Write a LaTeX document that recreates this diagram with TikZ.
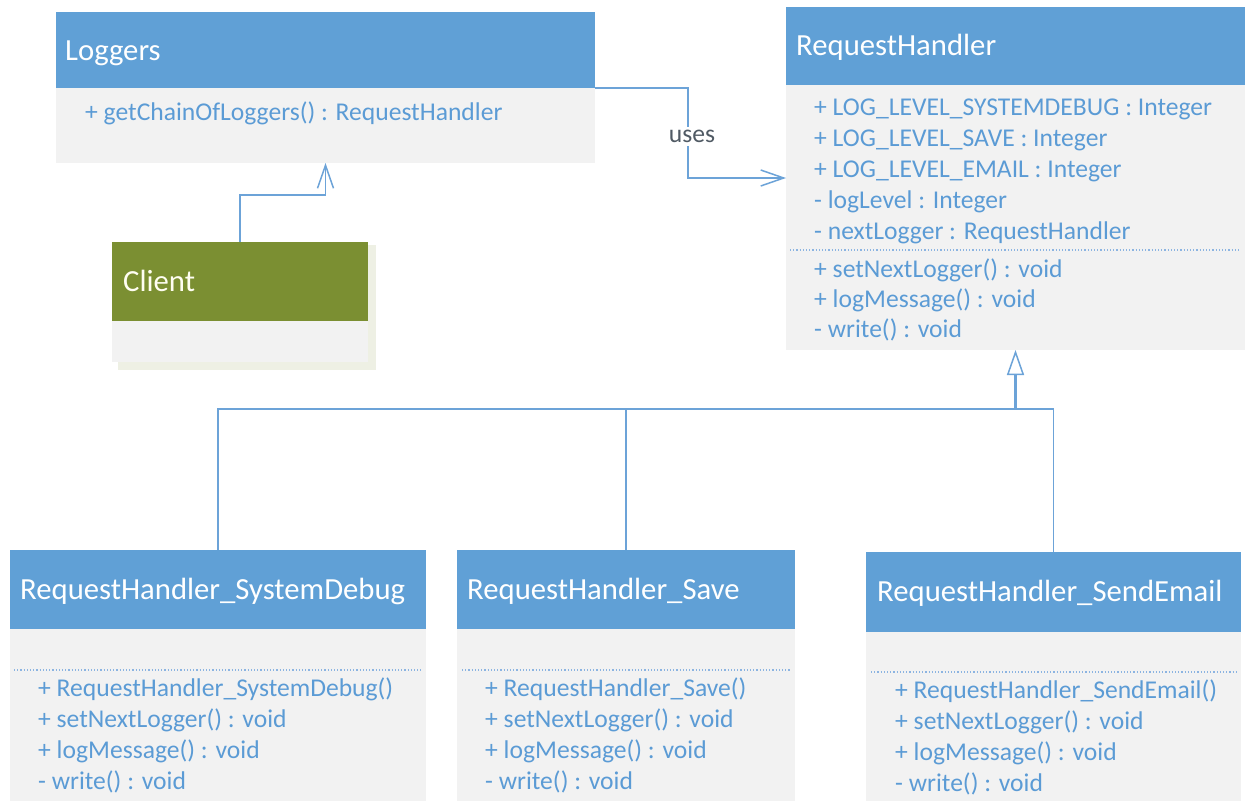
\documentclass[tikz,border=0pt]{standalone}
\usepackage{fontspec}
\setmainfont{Carlito}
\usetikzlibrary{arrows.meta,calc}
\definecolor{hblue}{RGB}{96,160,214}
\definecolor{bgrey}{RGB}{242,242,242}
\definecolor{tblue}{RGB}{91,155,213}
\definecolor{lblue}{RGB}{108,163,216}
\definecolor{cgreen}{RGB}{123,143,50}
\definecolor{shad}{RGB}{238,240,228}
\definecolor{dotc}{RGB}{140,180,225}
\definecolor{usesc}{RGB}{80,90,100}
\tikzset{
  box/.style={rectangle, inner sep=0pt, outer sep=0pt, anchor=north west, draw=none},
  hdr/.style={box, fill=hblue},
  cgr/.style={box, fill=cgreen},
  bdy/.style={box, fill=bgrey},
  htext/.style={anchor=base west, inner sep=0pt, text=white, font=\fontsize{30.7}{36}\selectfont},
  btext/.style={anchor=base west, inner sep=0pt, text=tblue, font=\fontsize{25.6}{31}\selectfont},
  conn/.style={draw=lblue, line width=1.5pt},
  nav/.style={conn, -{Straight Barb[length=23pt,width=16pt,line width=1.5pt]}},
  inh/.style={conn, -{Triangle[open,length=25pt,width=17pt,line width=1.5pt,fill=white]}},
  sep/.style={draw=dotc, line width=1.2pt, dotted}
}
\begin{document}
\begin{tikzpicture}[x=1pt,y=-1pt]
\useasboundingbox (0,0) rectangle (1245,801);
\fill[white] (0,0) rectangle (1245,801);

% Loggers
\node[hdr, minimum width=539pt, minimum height=76pt] (lgh) at (56,12) {};
\node[bdy, minimum width=539pt, minimum height=75pt] (lgb) at (56,88) {};
\node[htext] (lgt) at (65,60) {Loggers};
\node[btext] (lg1) at (85,120) {+ getChainOfLoggers() : RequestHandler};

% Client
\fill[shad] (118,245) rectangle (376,370);
\node[cgr, minimum width=256pt, minimum height=79pt] (clh) at (112,242) {};
\node[bdy, minimum width=256pt, minimum height=41pt] (clb) at (112,321) {};
\node[htext, text=white!95!yellow] (clt) at (123,291) {Client};

% RequestHandler
\node[hdr, minimum width=459pt, minimum height=78pt] (rhh) at (786,7) {};
\node[bdy, minimum width=459pt, minimum height=265pt] (rhb) at (786,85) {};
\node[htext] (rht) at (796,55) {RequestHandler};
\node[btext] (ra1) at (814,115) {+ LOG\_LEVEL\_SYSTEMDEBUG : Integer};
\node[btext] (ra2) at (814,146) {+ LOG\_LEVEL\_SAVE : Integer};
\node[btext] (ra3) at (814,177) {+ LOG\_LEVEL\_EMAIL : Integer};
\node[btext] (ra4) at (814,208) {- logLevel : Integer};
\node[btext] (ra5) at (814,239) {- nextLogger : RequestHandler};
\draw[sep] (790,250) -- (1241,250);
\node[btext] (rm1) at (814,277) {+ setNextLogger() : void};
\node[btext] (rm2) at (814,307) {+ logMessage() : void};
\node[btext] (rm3) at (814,337) {- write() : void};

% Child 1
\node[hdr, minimum width=416pt, minimum height=79pt] (c1h) at (10,550) {};
\node[bdy, minimum width=416pt, minimum height=172pt] (c1b) at (10,629) {};
\node[htext] (c1t) at (20,599) {RequestHandler\_SystemDebug};
\draw[sep] (14,670) -- (421,670);
\node[btext] (c1m1) at (38,696) {+ RequestHandler\_SystemDebug()};
\node[btext] (c1m2) at (38,727) {+ setNextLogger() : void};
\node[btext] (c1m3) at (38,758) {+ logMessage() : void};
\node[btext] (c1m4) at (38,789) {- write() : void};

% Child 2
\node[hdr, minimum width=338pt, minimum height=79pt] (c2h) at (457,550) {};
\node[bdy, minimum width=338pt, minimum height=172pt] (c2b) at (457,629) {};
\node[htext] (c2t) at (467,599) {RequestHandler\_Save};
\draw[sep] (462,670) -- (790,670);
\node[btext] (c2m1) at (485,696) {+ RequestHandler\_Save()};
\node[btext] (c2m2) at (485,727) {+ setNextLogger() : void};
\node[btext] (c2m3) at (485,758) {+ logMessage() : void};
\node[btext] (c2m4) at (485,789) {- write() : void};

% Child 3
\node[hdr, minimum width=375pt, minimum height=80pt] (c3h) at (866,552) {};
\node[bdy, minimum width=375pt, minimum height=169pt] (c3b) at (866,632) {};
\node[htext] (c3t) at (877,601) {RequestHandler\_SendEmail};
\draw[sep] (871,672) -- (1236,672);
\node[btext] (c3m1) at (895,698) {+ RequestHandler\_SendEmail()};
\node[btext] (c3m2) at (895,729) {+ setNextLogger() : void};
\node[btext] (c3m3) at (895,760) {+ logMessage() : void};
\node[btext] (c3m4) at (895,791) {- write() : void};

% Connectors
\coordinate (rhin) at (786,178);
\draw[nav] (lgh.south east) -| node[pos=0.77, fill=white, inner sep=3pt, xshift=4pt, text=usesc, font=\fontsize{25.6}{31}\selectfont] (uses) {uses} (688,178) -- (rhin);
\draw[nav] (clh.north) |- ($(lgb.south)+(0,32)$) -- (lgb.south);
\coordinate (join) at (rhb.south |- 0,409);
\draw[inh, line width=2.2pt] (join) -- (rhb.south);
\draw[conn] (c1h.north) |- (join);
\draw[conn] (c2h.north) |- (join);
\draw[conn] (c3h.north) |- (join);
\end{tikzpicture}
\end{document}
